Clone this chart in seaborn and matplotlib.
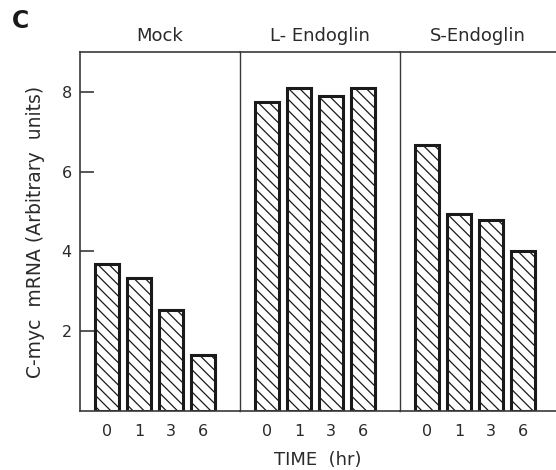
import numpy as np
import pandas as pd
import matplotlib
matplotlib.use("Agg")
import matplotlib.pyplot as plt
import seaborn as sns

# values (arbitrary units)
times = ["0", "1", "3", "6"]
panels = ["Mock", "L- Endoglin", "S-Endoglin"]
mock = [3.69, 3.34, 2.54, 1.41]
l_endoglin = [7.74, 8.09, 7.89, 8.09]
s_endoglin = [6.68, 4.94, 4.78, 4.00]
yticks = [2, 4, 6, 8]

sns.set_theme(style="white")
plt.rcParams['font.family'] = ['DejaVu Sans']
plt.rcParams['hatch.linewidth'] = 0.9
plt.rcParams['hatch.color'] = '#222222'

fig = plt.figure(figsize=(5.56, 4.70), dpi=100)
W, H = 556.0, 470.0
bottom_px, top_px = 411.0, 52.0
lefts = [80, 240, 400]
widths = [160, 160, 156]
xlims = [(-0.84, 4.16), (-0.84, 4.16), (-0.84, 4.03)]

axes = []
for i, (name, vals) in enumerate(zip(panels, [mock, l_endoglin, s_endoglin])):
    ax = fig.add_axes([lefts[i] / W, (H - bottom_px) / H,
                       widths[i] / W, (bottom_px - top_px) / H])
    df = pd.DataFrame({"time": times, "value": vals})
    sns.barplot(data=df, x="time", y="value", ax=ax, color="white",
                edgecolor="#1a1a1a", linewidth=2.2, hatch="\\\\\\",
                width=0.76, saturation=1)
    ax.set_xlim(*xlims[i])
    ax.set_ylim(0, 9)
    ax.set_xlabel("")
    ax.set_ylabel("")
    ax.set_title(name, fontsize=13, pad=8, color="#2a2a2a")
    ax.tick_params(axis="x", length=0, pad=9, labelsize=11.5, labelcolor="#2a2a2a")
    for s in ["left", "top", "bottom"]:
        ax.spines[s].set_visible(True)
        ax.spines[s].set_color("#3a3a3a")
        ax.spines[s].set_linewidth(1.2)
    ax.spines["right"].set_visible(False)
    if i == 0:
        ax.set_yticks(yticks)
        ax.tick_params(axis="y", direction="in", length=10, width=1.2,
                       color="#3a3a3a", pad=6, labelsize=11.5, labelcolor="#2a2a2a",
                       left=True)
        ax.set_ylabel("C-myc  mRNA (Arbitrary  units)", fontsize=13.5,
                      color="#2a2a2a", labelpad=12)
    else:
        ax.set_yticks([])
        ax.spines["left"].set_linewidth(1.0)
    axes.append(ax)

fig.text((80 + 556) / 2 / W, 1 - 460 / H, "TIME  (hr)", ha="center", va="center",
         fontsize=13, color="#2a2a2a")
fig.text(12 / W, 1 - 21 / H, "C", ha="left", va="center", fontsize=17,
         fontweight="bold", color="#1a1a1a")

fig.savefig("out.png", dpi=100, facecolor="white")
